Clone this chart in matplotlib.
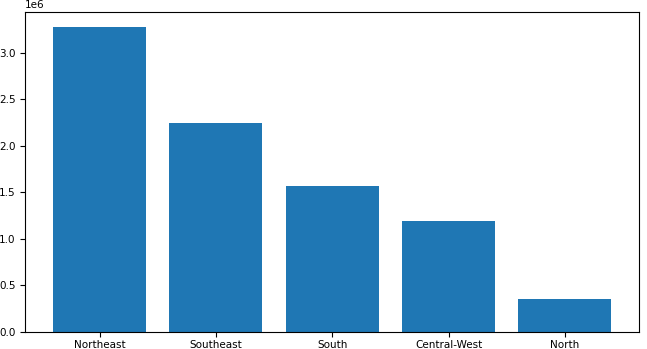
import matplotlib
matplotlib.use("Agg")
import matplotlib.pyplot as plt

regions = ["Northeast", "Southeast", "South", "Central-West", "North"]
values = [3280000, 2245000, 1565000, 1192000, 355000]

plt.rcParams['font.size'] = 7.5

fig, ax = plt.subplots(figsize=(6.47, 3.49), dpi=100)
ax.bar(regions, values, color='#1f77b4')
ax.tick_params(axis='x', pad=2.5)
fig.subplots_adjust(left=0.039, right=0.988, bottom=0.05, top=0.966)
fig.savefig("out.png")
